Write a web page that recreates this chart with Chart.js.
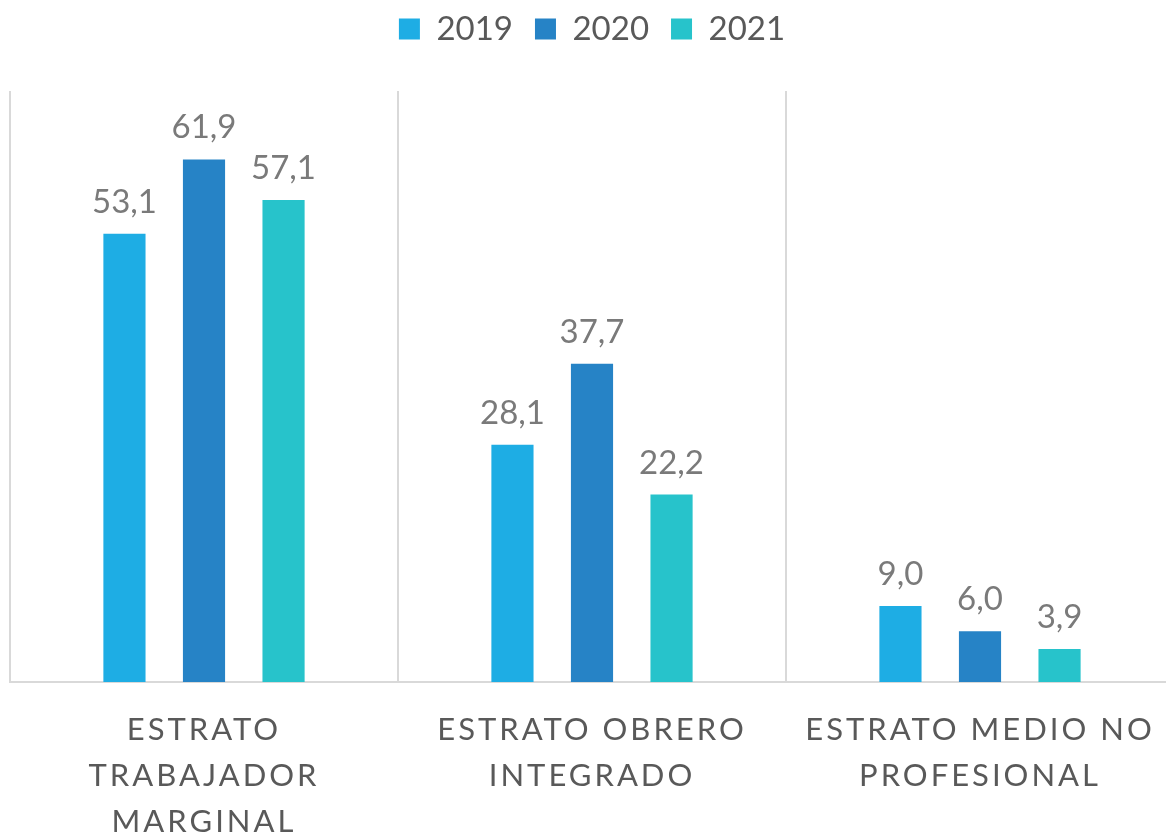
<!DOCTYPE html>
<html>
<head>
<meta charset="utf-8">
<script src="https://cdn.jsdelivr.net/npm/chart.js@4"></script>
<style>
  html, body { margin: 0; padding: 0; background: #fff; overflow: hidden; }
  #wrap { position: relative; width: 1176px; height: 836px; }
</style>
</head>
<body>
<div id="wrap"><canvas id="estratosChart"></canvas></div>
<script>
const categorias = [
  ['ESTRATO', 'TRABAJADOR', 'MARGINAL'],
  ['ESTRATO OBRERO', 'INTEGRADO'],
  ['ESTRATO MEDIO NO', 'PROFESIONAL']
];
const anios = ['2019', '2020', '2021'];
const datos2019 = [53.1, 28.1, 9.0];
const datos2020 = [61.9, 37.7, 6.0];
const datos2021 = [57.1, 22.2, 3.9];
const colores = ['#1eade4', '#2683c6', '#27c3cb'];

const FONT = 'Lato, "Open Sans", sans-serif';

// etiquetas de valor encima de cada barra, y espaciado de letras para el eje X
const etiquetasPlugin = {
  id: 'etiquetas',
  afterDatasetsDraw(chart) {
    const ctx = chart.ctx;
    ctx.save();
    ctx.font = `33px ${FONT}`;
    ctx.fillStyle = '#7a7a7a';
    ctx.textAlign = 'center';
    ctx.textBaseline = 'alphabetic';
    chart.data.datasets.forEach((ds, i) => {
      chart.getDatasetMeta(i).data.forEach((bar, j) => {
        const txt = ds.data[j].toFixed(1).replace('.', ',');
        ctx.fillText(txt, bar.x, bar.y - 21);
      });
    });
    ctx.restore();
    ctx.letterSpacing = '3px';
  },
  afterDraw(chart) {
    chart.ctx.letterSpacing = '0px';
  }
};

const ctx = document.getElementById('estratosChart').getContext('2d');

const chart = new Chart(ctx, {
  type: 'bar',
  data: {
    labels: categorias,
    datasets: [
      { label: anios[0], data: datos2019, backgroundColor: colores[0] },
      { label: anios[1], data: datos2020, backgroundColor: colores[1] },
      { label: anios[2], data: datos2021, backgroundColor: colores[2] }
    ]
  },
  options: {
    responsive: true,
    maintainAspectRatio: false,
    animation: false,
    categoryPercentage: 0.615,
    barPercentage: 0.53,
    layout: { padding: { left: 10, right: 2, top: -9.5, bottom: 0 } },
    scales: {
      x: {
        grid: { display: true, offset: true, color: '#d9d9d9', lineWidth: 2, drawTicks: false },
        border: { display: true, color: '#d9d9d9', width: 2 },
        ticks: {
          z: 1,
          maxRotation: 0,
          autoSkip: false,
          padding: 25,
          color: '#595959',
          font: { family: FONT, size: 31, lineHeight: 1.48 }
        },
        afterFit(scale) { scale.height = 154; }
      },
      y: {
        display: false,
        min: 0,
        max: 70
      }
    },
    plugins: {
      legend: {
        position: 'top',
        weight: 1000,
        labels: {
          boxWidth: 21,
          boxHeight: 21,
          padding: 22,
          color: '#595959',
          font: { family: FONT, size: 33 }
        }
      },
      // separador vacío entre la leyenda y el área del gráfico
      title: {
        display: true,
        text: '',
        weight: 500,
        font: { size: 10, lineHeight: 1.2 },
        padding: { top: 0, bottom: 23.5 }
      },
      tooltip: { enabled: false }
    }
  },
  plugins: [etiquetasPlugin]
});
</script>
</body>
</html>
